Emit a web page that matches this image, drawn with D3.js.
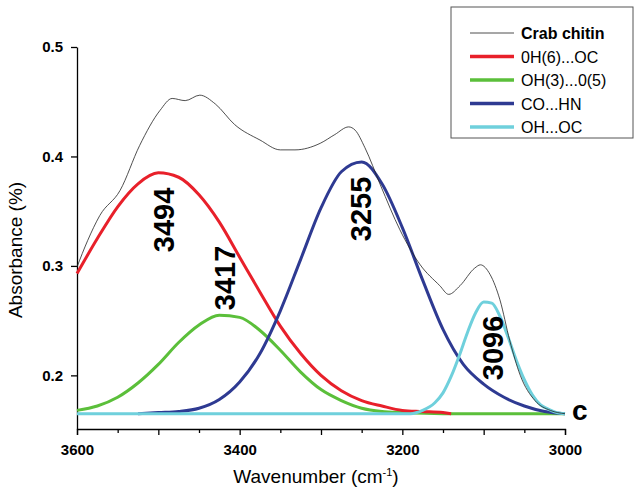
<!DOCTYPE html>
<html><head><meta charset="utf-8">
<script src="https://cdnjs.cloudflare.com/ajax/libs/d3/7.8.5/d3.min.js"></script>
<style>body{margin:0;background:#fff}text{font-family:Arial,"Liberation Sans",sans-serif}</style>
</head><body><svg id="c" width="640" height="496"></svg>
<script>
// measured spectrum
var specW = [3600,3587,3572,3547,3523,3498,3483,3467,3449,3430,3406,3375,3350,3332,3301,3283,3266,3258,3246,3227,3203,3178,3154,3143,3129,3111,3104,3092,3080,3068,3055,3037,3018,3000];
var specA = [0.299,0.323,0.346,0.369,0.410,0.442,0.453,0.451,0.456,0.448,0.429,0.415,0.406,0.406,0.412,0.420,0.427,0.424,0.408,0.374,0.333,0.301,0.282,0.274,0.282,0.298,0.301,0.292,0.269,0.232,0.200,0.177,0.168,0.165];

// fitted components
var redW = [3600,3575,3550,3525,3500,3475,3450,3425,3400,3375,3350,3325,3300,3275,3250,3225,3200,3175,3150,3140];
var redA = [0.293,0.325,0.354,0.375,0.385,0.381,0.365,0.340,0.308,0.276,0.245,0.220,0.200,0.186,0.177,0.172,0.168,0.167,0.166,0.165];
var greenW = [3600,3575,3550,3525,3500,3475,3450,3425,3400,3375,3350,3325,3300,3275,3250,3225,3200,3150,3000];
var greenA = [0.168,0.172,0.180,0.193,0.210,0.230,0.246,0.255,0.253,0.241,0.223,0.203,0.187,0.177,0.170,0.167,0.166,0.165,0.165];
var blueW = [3525,3500,3475,3450,3425,3400,3375,3350,3325,3300,3275,3250,3225,3200,3175,3150,3125,3100,3075,3050,3025,3000];
var blueA = [0.165,0.166,0.167,0.170,0.178,0.194,0.220,0.259,0.306,0.353,0.386,0.395,0.375,0.335,0.287,0.242,0.210,0.192,0.180,0.172,0.167,0.165];
var cyanW = [3600,3190,3175,3160,3150,3140,3130,3120,3110,3100,3090,3080,3070,3060,3050,3040,3030,3020,3010,3000];
var cyanA = [0.165,0.165,0.168,0.175,0.184,0.199,0.218,0.239,0.257,0.267,0.266,0.254,0.235,0.214,0.196,0.182,0.173,0.169,0.166,0.165];

var peakLabels = ["3494","3417","3255","3096"];
var legendNames = ["Crab chitin","0H(6)...OC","OH(3)...0(5)","CO...HN","OH...OC"];
var xTicks = [3600,3400,3200,3000];
var yTicks = [0.2,0.3,0.4,0.5];

var svg = d3.select("#c");
var x = d3.scaleLinear().domain([3600,3000]).range([77,565]);
var y = d3.scaleLinear().domain([0.151,0.5]).range([429,47]);

var xAxis = svg.append("g").attr("transform","translate(0,429)")
  .call(d3.axisBottom(x).tickValues(d3.range(3600,2999,-50)).tickSize(6).tickFormat(function(d){return xTicks.indexOf(d)>=0?d:"";}));
xAxis.selectAll(".tick line").attr("y2",function(d){return d%100===0?6:4;}).attr("stroke-width",1.3);
xAxis.select(".domain").attr("stroke-width",1.3);
xAxis.selectAll("text").attr("font-size",15).attr("font-weight","bold").attr("dy","1.1em");

var yAxis = svg.append("g").attr("transform","translate(77,0)")
  .call(d3.axisLeft(y).tickValues(yTicks).tickSize(6).tickFormat(d3.format(".1f")).tickSizeOuter(0));
yAxis.selectAll("line,.domain").attr("stroke-width",1.3);
yAxis.selectAll("text").attr("font-size",15).attr("font-weight","bold").attr("x",-14);

svg.append("text").attr("x",316).attr("y",483).attr("text-anchor","middle").attr("font-size",19)
  .html('Wavenumber (cm<tspan dy="-7" font-size="11">-1</tspan><tspan dy="7">)</tspan>');
svg.append("text").attr("transform","translate(22,250) rotate(-90)").attr("text-anchor","middle").attr("font-size",19).text("Absorbance (%)");

var line = d3.line().x(function(d){return x(d[0]);}).y(function(d){return y(d[1]);}).curve(d3.curveMonotoneX);
function draw(ws, as, color, w){
  svg.append("path").datum(d3.zip(ws.map(function(v){return -v;}), as))
    .attr("d", d3.line().x(function(d){return x(-d[0]);}).y(function(d){return y(d[1]);}).curve(d3.curveMonotoneX))
    .attr("fill","none").attr("stroke",color).attr("stroke-width",w);
}
draw(greenW, greenA, "#5bbf3a", 3);
draw(redW, redA, "#e8202a", 3);
draw(blueW, blueA, "#2e3a92", 3);
draw(cyanW, cyanA, "#6fd0dc", 3);
draw(specW, specA, "#222", 0.8);

var lp = [[163,220],[224,278],[360,209],[492,348]];
peakLabels.forEach(function(t,i){
  svg.append("text").attr("transform","translate("+(lp[i][0]+11)+","+lp[i][1]+") rotate(-90)")
    .attr("text-anchor","middle").attr("font-size",29).attr("font-weight","bold").text(t);
});
svg.append("text").attr("x",572).attr("y",420).attr("font-size",28).attr("font-weight","bold").text("c");

var lg = svg.append("g");
lg.append("rect").attr("x",451).attr("y",7).attr("width",182).attr("height",131).attr("fill","#fff").attr("stroke","#555").attr("stroke-width",1);
var lc = ["#222","#e8202a","#5bbf3a","#2e3a92","#6fd0dc"];
legendNames.forEach(function(n,i){
  var yy = 33 + i*23.5;
  lg.append("line").attr("x1",470).attr("x2",514).attr("y1",yy).attr("y2",yy).attr("stroke",lc[i]).attr("stroke-width",i?3.5:0.8);
  lg.append("text").attr("x",521).attr("y",yy+6).attr("font-size",16).attr("font-weight",i?"normal":"bold").text(n);
});
</script></body></html>
